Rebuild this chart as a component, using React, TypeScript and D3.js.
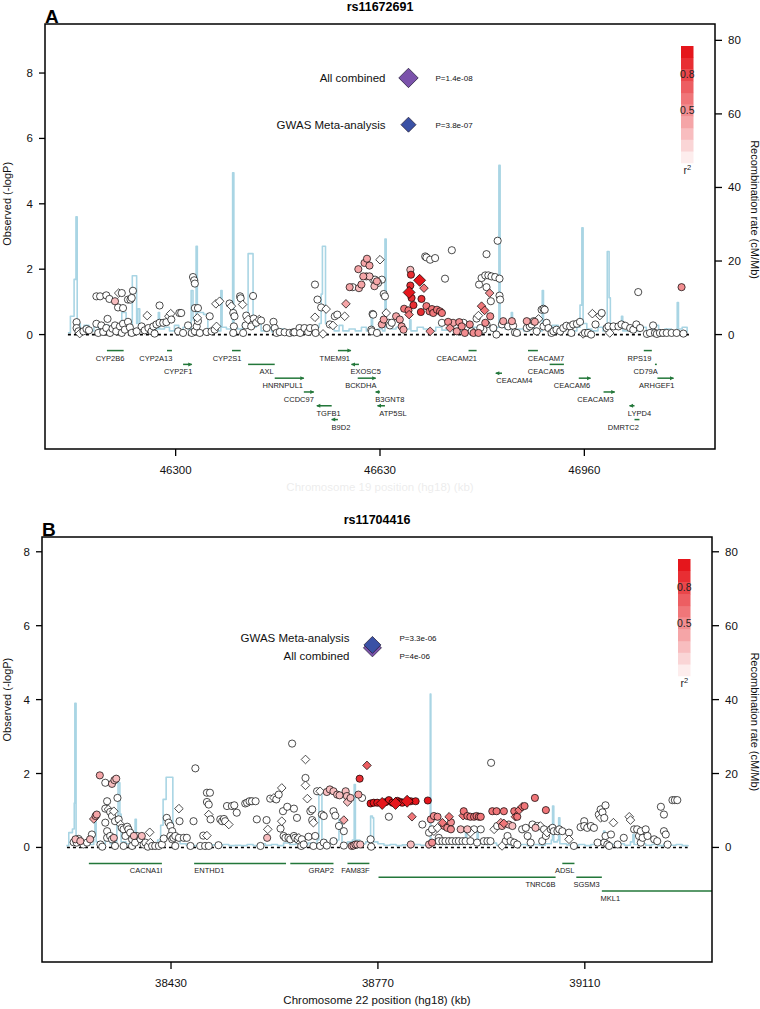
import React from "react";
import * as d3 from "d3";

type Snp = [number, number, number, string]; // position (kb), -logP, r2, shape
type Rec = [number, number]; // position (kb), cM/Mb
interface Gene { name: string; start: number; end: number; strand: number; row: number; label: number; }
interface Lead { name: string; p: string; pos: number; logp: number; color: string; size: number; dy: number; }

// ---------------- Panel A data ----------------
const snpsA: Snp[] = [
  [46140,0.38,0,"c"],[46140,0.20,0,"c"],[46143,0.10,0,"c"],[46145,0.03,0,"d"],[46151,0.10,0,"c"],[46156,0.17,0,"c"],[46160,0.13,0,"c"],[46172,0.33,0,"c"],[46175,0.05,0,"c"],[46180,0.28,0,"c"],[46183,0.08,0,"c"],[46188,0.20,0,"c"],[46190,0.48,0,"c"],[46194,0.05,0,"c"],[46198,0.18,0,"c"],[46202,0.28,0,"c"],[46204,0.10,0,"c"],[46210,0.25,0,"c"],[46213,0.05,0,"c"],[46215,0.33,0,"c"],[46218,0.15,0,"c"],[46223,0.39,0,"c"],[46226,0.22,0,"c"],[46229,0.05,0,"c"],[46237,0.10,0,"c"],[46245,0.25,0,"c"],[46250,0.13,0,"c"],[46254,0.58,0,"d"],[46256,0.20,0,"c"],[46261,0.10,0,"c"],[46264,0.25,0,"c"],[46266,0.03,0,"c"],[46269,0.31,0,"c"],[46274,0.36,0,"c"],[46274,0.89,0,"c"],[46280,0.36,0,"c"],[46285,0.38,0,"c"],[46289,0.56,0,"d"],[46292,0.64,0,"d"],[46293,0.46,0,"c"],[46306,0.66,0,"c"],[46309,0.66,0,"c"],[46304,0.10,0,"c"],[46312,0.05,0,"c"],[46320,0.28,0,"c"],[46326,0.05,0,"c"],[46331,0.10,0,"c"],[46334,0.25,0,"c"],[46336,0.41,0,"c"],[46335,0.51,0,"d"],[46331,0.81,0,"c"],[46336,0.81,0,"c"],[46328,1.76,0,"c"],[46330,1.66,0,"c"],[46331,1.56,0,"c"],[46339,0.05,0,"c"],[46350,0.08,0,"c"],[46355,0.56,0,"c"],[46358,0.10,0,"c"],[46363,0.15,0,"c"],[46366,0.25,0,"d"],[46365,0.94,0,"d"],[46371,1.02,0,"d"],[46387,0.95,0,"c"],[46390,0.87,0,"d"],[46393,0.66,0,"c"],[46395,0.56,0,"c"],[46394,0.25,0,"c"],[46393,0.05,0,"c"],[46404,1.17,0,"c"],[46405,1.11,0,"c"],[46408,0.92,0,"d"],[46409,0.05,0,"c"],[46413,0.28,0,"c"],[46414,0.58,0,"c"],[46417,0.46,0,"d"],[46422,0.25,0,"c"],[46425,1.18,0,"c"],[46426,0.49,0,"c"],[46430,0.36,0,"c"],[46435,0.46,0,"d"],[46438,0.43,0,"c"],[46447,0.20,0,"c"],[46458,0.39,0,"c"],[46460,0.20,0,"c"],[46463,0.05,0,"c"],[46468,0.08,0,"c"],[46476,0.07,0,"c"],[46484,0.05,0,"c"],[46490,0.07,0,"c"],[46492,0.07,0,"c"],[46500,0.20,0,"c"],[46501,0.05,0,"c"],[46508,0.20,0,"c"],[46514,0.08,0,"c"],[46517,0.20,0,"c"],[46525,0.53,0,"d"],[46525,0.20,0,"c"],[46526,0.05,0,"c"],[46525,1.53,0,"c"],[46529,1.07,0,"c"],[46535,0.83,0,"c"],[46538,0.02,0,"d"],[46543,0.78,0,"d"],[46549,0.31,0,"c"],[46554,0.28,0,"d"],[46557,0.56,0,"c"],[46561,0.61,0,"c"],[46575,0.94,0.3,"d"],[46573,0.56,0,"d"],[46581,1.45,0.3,"c"],[46586,1.45,0,"c"],[46595,2.00,0.3,"c"],[46600,1.53,0.3,"c"],[46596,1.42,0.2,"c"],[46603,1.78,0.3,"c"],[46605,2.19,0.3,"c"],[46609,2.32,0.3,"c"],[46613,2.11,0.3,"c"],[46608,1.78,0.2,"c"],[46613,1.78,0.2,"c"],[46619,1.68,0,"c"],[46621,1.48,0.2,"c"],[46618,0.63,0,"c"],[46616,0.15,0,"c"],
  [46172,1.17,0,"c"],[46178,1.17,0,"c"],[46188,1.20,0,"c"],[46193,1.09,0,"c"],[46202,1.02,0.2,"c"],[46208,1.27,0,"d"],[46213,1.27,0,"c"],[46207,0.83,0,"c"],[46215,0.81,0,"c"],[46223,1.07,0,"c"],[46227,1.07,0,"c"],[46229,1.12,0,"c"],[46231,1.34,0,"c"],
  [46630,2.29,0,"d"],[46633,1.68,0,"c"],[46636,1.24,0,"c"],[46638,1.17,0,"c"],[46640,0.66,0,"d"],[46619,0.61,0,"c"],[46617,0.10,0,"c"],[46625,0.05,0,"c"],[46633,0.31,0.3,"c"],[46636,0.46,0.3,"c"],[46625,1.63,0.3,"c"],[46627,1.58,0,"c"],[46622,1.68,0,"c"],
  [46644,0.36,0,"c"],[46646,0.28,0,"c"],[46649,0.36,0,"c"],[46656,0.56,0.3,"c"],[46662,0.46,0.3,"c"],[46665,0.25,0.3,"c"],[46668,0.15,0.3,"c"],[46669,0.79,0.5,"c"],[46676,0.74,0.5,"c"],[46677,0.61,0.5,"d"],[46679,1.98,0.2,"c"],[46680,1.83,0.85,"c"],[46679,1.50,0.85,"c"],[46677,1.29,0.95,"D"],[46681,1.12,0.85,"c"],[46684,0.90,0.85,"c"],[46694,1.66,0.95,"D"],[46701,1.42,0.5,"d"],[46697,1.09,0.85,"c"],[46696,0.69,0.85,"c"],[46705,0.87,0.5,"c"],[46710,0.71,0.5,"c"],[46714,0.78,0.5,"c"],[46716,0.66,0.5,"c"],[46722,0.76,0.5,"c"],[46727,0.71,0.5,"c"],[46730,0.66,0.5,"c"],[46711,0.10,0.4,"d"],[46703,2.39,0,"c"],[46705,2.36,0,"c"],[46711,2.29,0,"c"],[46719,2.34,0,"c"],[46746,2.58,0,"c"],[46735,1.71,0,"c"],[46730,0.36,0,"c"],[46740,0.39,0.4,"c"],[46743,0.20,0.4,"d"],[46748,0.36,0.3,"c"],[46751,0.25,0,"c"],[46754,0.10,0.3,"c"],[46758,0.38,0.4,"c"],[46762,0.25,0.4,"c"],[46765,0.36,0,"c"],[46767,0.05,0.4,"c"],[46770,0.20,0,"c"],[46775,0.31,0.4,"c"],[46778,0.10,0,"c"],[46781,0.05,0.4,"c"],[46786,0.49,0,"c"],[46789,0.58,0,"d"],[46790,1.53,0,"c"],[46794,1.73,0,"c"],[46800,1.81,0,"c"],[46805,1.81,0,"c"],[46810,1.78,0,"c"],[46816,1.76,0,"c"],[46823,1.71,0,"c"],[46802,2.46,0,"c"],[46820,2.87,0,"c"],[46802,1.45,0,"c"],[46807,1.27,0.4,"d"],[46809,1.02,0,"c"],[46823,1.19,0,"c"],[46824,1.07,0,"c"],[46794,0.87,0.5,"d"],[46799,0.74,0.5,"d"],[46800,0.36,0.4,"c"],[46802,0.31,0,"c"],[46808,0.56,0.4,"c"],[46797,0.15,0,"c"],[46792,0.20,0,"c"],[46789,0.05,0.4,"c"],[46813,0.20,0,"c"],[46818,0.00,0,"c"],[46827,0.31,0,"c"],[46829,0.41,0.3,"c"],[46837,0.25,0,"c"],[46843,0.41,0.3,"c"],[46845,0.27,0,"c"],[46848,0.07,0,"c"],[46851,0.05,0,"c"],[46867,0.41,0.3,"c"],[46867,0.20,0,"c"],[46872,0.25,0,"c"],[46875,0.31,0,"c"],[46878,0.41,0,"c"],[46880,0.39,0.3,"c"],[46883,0.10,0,"c"],[46886,0.48,0,"d"],[46891,0.76,0,"c"],[46894,0.79,0,"c"],[46896,0.76,0,"c"],[46894,0.25,0,"c"],[46899,0.36,0,"c"],[46902,0.20,0,"c"],[46907,0.05,0,"c"],[46910,0.10,0,"c"],[46915,0.15,0,"c"],[46921,0.10,0,"c"],[46926,0.20,0,"c"],[46931,0.27,0,"c"],[46937,0.25,0,"c"],[46939,0.05,0,"c"],[46942,0.31,0,"c"],[46948,0.33,0,"c"],[46953,0.39,0,"c"],[46958,0.02,0,"d"],[46961,0.05,0,"c"],[46966,0.05,0,"c"],[46971,0.00,0,"c"],[46973,0.64,0,"d"],[46985,0.58,0,"d"],[46988,0.66,0,"c"],[46978,0.31,0,"c"],[46996,0.20,0,"c"],[46999,0.25,0,"c"],[47001,0.05,0,"d"],[47007,0.25,0,"c"],[47015,0.25,0,"c"],[47020,0.31,0,"c"],[47026,0.27,0,"c"],[47034,0.20,0,"c"],[47039,0.15,0,"c"],[47044,0.31,0,"c"],[47047,1.30,0,"c"],[47050,0.20,0,"c"],[47061,0.02,0,"c"],[47066,0.05,0,"c"],[47071,0.28,0,"c"],[47074,0.05,0,"c"],[47077,0.02,0,"c"],[47082,0.05,0,"c"],[47087,0.05,0,"c"],[47093,0.05,0,"c"],[47101,0.05,0,"c"],[47109,0.05,0,"c"],[47117,1.45,0.4,"c"],[47120,0.03,0,"c"],
];

const recombA: Rec[] = [
  [46126,0.5],[46130,5],[46134,5],[46136,15],[46139,32],[46141,3],[46146,1.5],[46152,2.5],[46160,1],[46168,2],[46176,1.2],[46185,2.5],[46192,1],[46200,1.8],[46208,1],[46213,6],[46217,6],[46220,2],[46226,1.5],[46230,16],[46235,16],[46237,3],[46239,7],[46242,2],[46250,1],[46258,2],[46266,1.5],[46272,6],[46274,1.5],[46282,2],[46290,1],[46298,2.5],[46305,1],[46312,2],[46320,1.5],[46325,12],[46328,4],[46333,24],[46335,6],[46345,5.5],[46350,5],[46352,1.5],[46360,2],[46368,1],[46373,12],[46375,2],[46382,1.5],[46390,2],[46392,44],[46394,2],[46400,1.5],[46408,3],[46414,2],[46417,22],[46423,22],[46425,2],[46430,3],[46438,1],[46446,2],[46455,0.8],[46465,1.5],[46475,0.8],[46485,1.2],[46495,0.8],[46505,1.5],[46515,1],[46525,2],[46532,3],[46535,11],[46537,24],[46540,24],[46542,3],[46548,2],[46556,1],[46564,2.5],[46570,1],[46580,1.5],[46590,1],[46600,2],[46608,1],[46616,5],[46618,1],[46626,1.5],[46634,1],[46638,26],[46640,2],[46648,1.5],[46656,2],[46664,1],[46672,1.5],[46678,4],[46680,1],[46690,2],[46700,1.5],[46710,1],[46720,2],[46730,1.2],[46740,2],[46750,1],[46760,1.5],[46770,1],[46780,2],[46790,1.5],[46800,2],[46810,1],[46818,2],[46822,46],[46824,2],[46832,1.5],[46842,6],[46844,1],[46852,1.5],[46862,1],[46872,1.8],[46882,1],[46892,12],[46894,3],[46900,1.5],[46908,2.5],[46918,1],[46928,2],[46938,1],[46948,2],[46953,8],[46956,29],[46958,3],[46964,1.5],[46972,1],[46982,2],[46990,1],[46997,22.6],[47000,10],[47002,1.5],[47010,2],[47020,5],[47022,1],[47030,1.5],[47040,1],[47050,2],[47060,1],[47070,2.5],[47080,1],[47090,1.5],[47100,1],[47110,8.7],[47112,1.5],[47118,2],[47126,0.5],
];

const genesA: Gene[] = [
  { name: "CYP2B6", start: 46189, end: 46216, strand: 0, row: 0, label: 46194 },
  { name: "CYP2A13", start: 46286, end: 46294, strand: 0, row: 0, label: 46268 },
  { name: "CYP2F1", start: 46312, end: 46326, strand: 1, row: 1, label: 46304 },
  { name: "CYP2S1", start: 46391, end: 46405, strand: 0, row: 0, label: 46383 },
  { name: "AXL", start: 46417, end: 46460, strand: 0, row: 1, label: 46447 },
  { name: "HNRNPUL1", start: 46460, end: 46507, strand: 1, row: 2, label: 46473 },
  { name: "CCDC97", start: 46507, end: 46523, strand: 1, row: 3, label: 46499 },
  { name: "TGFB1", start: 46528, end: 46552, strand: -1, row: 4, label: 46547 },
  { name: "B9D2", start: 46552, end: 46562, strand: -1, row: 5, label: 46567 },
  { name: "TMEM91", start: 46562, end: 46583, strand: 1, row: 0, label: 46557 },
  { name: "EXOSC5", start: 46584, end: 46596, strand: -1, row: 1, label: 46607 },
  { name: "BCKDHA", start: 46594, end: 46623, strand: 1, row: 2, label: 46599 },
  { name: "B3GNT8", start: 46623, end: 46630, strand: -1, row: 3, label: 46646 },
  { name: "ATP5SL", start: 46626, end: 46638, strand: -1, row: 4, label: 46651 },
  { name: "CEACAM21", start: 46773, end: 46786, strand: 0, row: 0, label: 46754 },
  { name: "CEACAM4", start: 46817, end: 46827, strand: -1, row: 1.64, label: 46847 },
  { name: "CEACAM7", start: 46869, end: 46885, strand: 0, row: 0, label: 46898 },
  { name: "CEACAM5", start: 46904, end: 46927, strand: 0, row: 1, label: 46898 },
  { name: "CEACAM6", start: 46951, end: 46970, strand: 1, row: 2, label: 46940 },
  { name: "CEACAM3", start: 46991, end: 47009, strand: 1, row: 3, label: 46978 },
  { name: "LYPD4", start: 47033, end: 47041, strand: -1, row: 4, label: 47049 },
  { name: "DMRTC2", start: 47041, end: 47049, strand: 0, row: 5, label: 47023 },
  { name: "RPS19", start: 47056, end: 47069, strand: 0, row: 0, label: 47049 },
  { name: "CD79A", start: 47074, end: 47077, strand: 0, row: 1, label: 47059 },
  { name: "ARHGEF1", start: 47078, end: 47104, strand: 1, row: 2, label: 47077 },
];

const leadsA: Lead[] = [
  { name: "All combined", p: "P=1.4e-08", pos: 46676, logp: 7.85, color: "#7b52ab", size: 9.7, dy: 0 },
  { name: "GWAS Meta-analysis", p: "P=3.8e-07", pos: 46676, logp: 6.42, color: "#3a51a5", size: 7.5, dy: 0 },
];
const xTicksA = [46300, 46630, 46960];
const baselineA = [46126, 47130];

// ---------------- Panel B data ----------------
const snpsB: Snp[] = [
  [38270,0.14,0,"c"],[38273,0.22,0.2,"c"],[38275,0.13,0,"c"],[38278,0.23,0,"c"],[38281,0.17,0.2,"c"],[38286,0.08,0,"c"],[38292,0.13,0,"c"],[38297,0.22,0.2,"c"],[38300,0.35,0,"c"],[38303,0.77,0.3,"d"],[38306,0.85,0.3,"c"],[38308,0.89,0.3,"c"],[38313,1.95,0.3,"c"],[38314,0.08,0,"c"],[38317,0.02,0,"c"],[38322,1.75,0,"c"],[38325,1.25,0,"c"],[38322,1.05,0,"c"],[38322,0.67,0,"c"],[38325,0.44,0,"c"],[38325,0.26,0,"c"],[38327,1.03,0,"d"],[38330,0.96,0,"c"],[38333,1.72,0.2,"c"],[38337,1.82,0.2,"c"],[38340,1.86,0.2,"c"],[38333,0.85,0,"c"],[38336,0.98,0,"d"],[38338,0.71,0,"c"],[38330,0.31,0,"c"],[38333,0.22,0,"c"],[38336,0.26,0.2,"c"],[38338,0.04,0,"c"],[38342,1.34,0,"c"],[38344,0.76,0,"c"],[38347,0.62,0,"d"],[38349,0.53,0,"c"],[38352,0.04,0,"c"],[38352,0.49,0,"c"],[38355,0.31,0,"c"],[38358,0.56,0,"c"],[38360,0.49,0,"c"],[38363,0.40,0,"c"],[38366,0.22,0,"c"],[38366,0.04,0,"c"],[38369,0.31,0.2,"c"],[38371,0.13,0,"c"],[38374,0.31,0,"c"],[38380,0.22,0,"c"],[38382,0.31,0.2,"c"],[38385,0.08,0,"c"],[38388,0.13,0,"c"],[38392,0.02,0,"c"],[38395,0.41,0,"d"],[38396,0.13,0,"d"],[38399,0.04,0,"c"],[38404,0.04,0,"c"],[38410,0.04,0,"c"],[38415,0.08,0,"c"],[38418,0.24,0,"c"],[38423,0.80,0,"c"],[38426,0.67,0,"c"],[38429,0.58,0,"c"],[38432,0.44,0,"c"],[38429,0.31,0,"c"],[38432,0.22,0,"c"],[38434,0.26,0,"c"],[38437,0.31,0,"c"],[38443,0.26,0,"c"],[38451,0.26,0,"c"],[38456,0.26,0,"c"],[38443,1.05,0,"d"],[38444,0.71,0,"c"],[38437,0.04,0,"c"],[38462,0.04,0,"c"],[38467,0.71,0,"c"],[38470,2.14,0,"c"],[38478,0.04,0,"c"],[38483,0.32,0,"c"],[38486,0.04,0,"c"],[38489,1.23,0,"c"],[38489,1.48,0,"c"],[38494,1.48,0,"c"],[38492,1.16,0,"c"],[38492,0.89,0,"d"],[38495,0.76,0,"c"],[38489,0.32,0,"d"],[38492,0.04,0,"c"],[38508,0.06,0,"c"],[38511,0.76,0,"c"],[38514,0.71,0,"c"],[38517,0.77,0,"c"],[38519,0.71,0,"c"],[38522,1.12,0,"c"],[38525,0.62,0,"d"],[38530,1.12,0,"c"],[38534,1.14,0,"c"],[38538,0.94,0,"c"],[38552,1.19,0,"c"],[38555,1.21,0,"c"],[38559,1.25,0,"c"],[38563,1.25,0,"c"],[38569,1.25,0,"c"],[38571,0.76,0,"c"],[38577,0.04,0,"c"],[38587,0.74,0,"c"],[38588,0.26,0.2,"c"],[38589,0.49,0,"d"],[38593,1.32,0,"c"],[38599,1.34,0,"d"],[38603,1.30,0,"c"],[38607,1.43,0,"c"],[38612,1.61,0,"d"],[38610,0.51,0,"c"],[38612,0.71,0,"d"],[38614,0.98,0,"c"],[38615,0.31,0,"c"],[38618,0.26,0,"c"],[38621,1.10,0,"c"],[38623,0.26,0,"c"],[38626,0.22,0,"c"],[38629,2.81,0,"c"],[38632,1.05,0,"c"],[38632,0.31,0,"c"],[38634,0.26,0,"c"],[38637,0.80,0,"c"],[38638,0.22,0,"c"],[38640,0.26,0,"d"],[38643,0.13,0,"d"],[38644,0.04,0,"c"],[38645,0.22,0,"c"],[38648,0.08,0,"c"],[38651,2.38,0,"d"],[38651,1.88,0,"c"],[38651,1.68,0,"d"],[38654,1.32,0,"d"],[38656,0.29,0,"c"],[38659,0.98,0,"c"],[38662,0.74,0,"c"],[38664,0.67,0,"d"],[38662,1.03,0,"c"],[38664,0.04,0,"c"],[38667,0.31,0,"c"],[38670,1.52,0,"c"],[38675,1.52,0,"d"],[38678,0.89,0,"c"],[38681,0.85,0,"c"],[38686,1.50,0.2,"c"],[38691,1.57,0.2,"c"],[38697,1.52,0.2,"c"],[38703,1.43,0.2,"c"],[38707,1.41,0.2,"c"],[38717,1.52,0.2,"c"],[38719,1.39,0.2,"c"],[38720,1.23,0.2,"d"],[38725,1.34,0.2,"c"],[38697,0.98,0,"c"],[38700,0.86,0,"c"],[38706,0.58,0,"c"],[38714,0.74,0.3,"d"],[38714,0.44,0,"c"],[38675,0.04,0,"c"],[38681,0.13,0,"c"],[38686,0.05,0,"c"],[38697,0.17,0,"c"],[38714,0.05,0,"c"],[38727,0.04,0.2,"c"],[38730,0.05,0.2,"c"],[38733,0.08,0.2,"c"],[38736,0.08,0.2,"c"],[38738,1.43,0.3,"c"],[38741,0.08,0.2,"c"],[38744,1.34,0,"c"],[38740,1.86,0.8,"c"],[38752,2.22,0.6,"d"],[38758,0.22,0,"c"],[38759,0.02,0,"c"],
  [38758,1.19,0.9,"c"],[38763,1.21,0.9,"c"],[38769,1.21,0.9,"c"],[38777,1.19,0.95,"D"],[38783,1.23,0.9,"c"],[38788,1.28,0.9,"c"],[38794,1.21,0.9,"c"],[38799,1.19,0.95,"D"],[38802,1.26,0.9,"c"],[38807,1.23,0.9,"c"],[38810,1.21,0.9,"c"],[38818,1.25,0.95,"D"],[38824,1.25,0.9,"c"],[38832,1.25,0.9,"c"],[38852,1.27,0.9,"c"],
  [38788,0.83,0,"c"],[38826,0.83,0.5,"d"],[38824,0.08,0.2,"c"],[38843,0.62,0,"c"],[38854,0.08,0.2,"c"],[38854,0.40,0,"c"],[38857,0.76,0.4,"c"],[38862,0.85,0.4,"c"],[38868,0.83,0.4,"c"],[38859,0.13,0.4,"c"],[38862,0.44,0,"d"],[38859,0.49,0,"c"],[38868,0.53,0,"d"],[38870,0.26,0,"c"],[38876,0.67,0.5,"d"],[38879,0.58,0.4,"c"],[38884,0.53,0.4,"c"],[38887,0.83,0.5,"d"],[38890,0.68,0.4,"c"],[38890,0.49,0.4,"c"],
  [38870,0.17,0,"c"],[38876,0.17,0,"c"],[38881,0.17,0,"c"],[38887,0.17,0,"c"],[38892,0.17,0,"c"],[38898,0.17,0,"c"],[38903,0.17,0,"c"],[38909,0.17,0,"c"],[38914,0.17,0,"c"],
  [38906,0.49,0.2,"c"],[38910,0.86,0.5,"d"],[38911,0.98,0.5,"c"],[38917,0.85,0.5,"c"],[38922,0.83,0.5,"c"],[38928,0.83,0.5,"c"],[38932,0.85,0.5,"c"],[38936,0.83,0.5,"c"],[38939,0.83,0.5,"c"],[38917,0.49,0.2,"c"],[38928,0.49,0,"c"],[38939,0.49,0,"c"],[38922,0.40,0,"d"],[38922,0.17,0,"c"],[38933,0.13,0,"c"],[38944,0.17,0,"c"],[38950,0.17,0,"c"],[38955,0.17,0,"c"],[38958,0.98,0.5,"c"],[38965,0.98,0.5,"c"],[38956,2.29,0,"c"],[38961,0.49,0,"d"],[38966,0.58,0,"c"],[38972,0.67,0.3,"d"],[38974,0.58,0.3,"c"],[38977,0.98,0.5,"c"],[38977,0.65,0.5,"d"],[38980,0.17,0,"c"],[38974,0.04,0,"d"],[38983,0.31,0,"c"],[38985,0.62,0.2,"c"],[38991,0.58,0.2,"c"],[38994,0.98,0.5,"c"],[38996,0.83,0.5,"d"],[38999,0.83,0.5,"c"],[39002,1.01,0.5,"d"],[39007,1.10,0.5,"d"],[39011,1.12,0.5,"c"],[38988,0.17,0,"c"],[38994,0.13,0,"c"],[38999,0.08,0,"c"],[39007,0.49,0,"c"],[39013,0.53,0,"c"],[39016,0.31,0,"c"],[39021,0.13,0,"c"],[39024,0.62,0,"c"],[39028,1.34,0.5,"c"],[39029,0.53,0.2,"c"],[39032,0.58,0,"c"],[39037,0.58,0,"d"],[39040,0.17,0,"c"],[39046,1.01,0.5,"c"],[39043,0.49,0,"c"],[39046,0.31,0,"c"],[39048,0.40,0,"d"],[39054,0.49,0,"c"],[39057,0.53,0,"c"],[39059,0.44,0,"c"],[39065,0.44,0,"c"],[39068,0.49,0,"c"],[39073,0.44,0,"c"],[39084,0.40,0,"c"],[39084,0.22,0,"d"],[39092,0.04,0,"c"],[39103,0.55,0,"c"],[39109,0.71,0,"c"],[39109,0.58,0,"c"],[39114,0.53,0,"c"],[39120,0.58,0,"c"],[39125,0.53,0,"c"],[39131,0.13,0,"c"],[39133,0.89,0,"c"],[39136,1.03,0,"c"],[39136,0.80,0,"d"],[39139,0.95,0,"c"],[39142,0.80,0,"c"],[39144,1.14,0,"c"],[39142,0.13,0,"c"],[39144,0.31,0,"c"],[39147,0.08,0,"c"],[39150,0.04,0,"c"],[39153,0.35,0,"c"],[39157,0.67,0,"d"],[39164,0.08,0,"c"],[39174,0.26,0,"c"],[39183,0.83,0,"d"],[39185,0.74,0,"d"],[39191,0.49,0,"c"],[39196,0.49,0,"c"],[39199,0.31,0,"c"],[39202,0.44,0,"c"],[39202,0.13,0,"c"],[39205,0.26,0,"c"],[39210,0.49,0,"c"],[39213,0.31,0,"c"],[39224,0.22,0,"c"],[39229,0.17,0,"c"],[39235,1.10,0,"c"],[39240,0.89,0,"c"],[39240,0.44,0,"c"],[39243,0.35,0,"c"],[39246,0.08,0,"c"],[39254,1.28,0,"c"],[39258,1.28,0,"c"],[39262,1.28,0,"c"],
];

const recombB: Rec[] = [
  [38258,0.5],[38262,4],[38268,5],[38271,12],[38272,39],[38274,2],[38280,1],[38288,1.5],[38296,0.8],[38303,4],[38305,8.5],[38307,1.5],[38315,1],[38322,2],[38330,1],[38338,1.5],[38341,6],[38343,17.5],[38346,9],[38348,1.5],[38356,1],[38363,2],[38369,3],[38371,7.6],[38373,2],[38382,1],[38392,1.5],[38400,1],[38408,2],[38413,6],[38417,13],[38422,19],[38430,19],[38433,4],[38437,2],[38445,1],[38455,0.6],[38465,0.5],[38475,0.8],[38485,0.5],[38495,0.7],[38505,0.5],[38515,0.8],[38525,0.5],[38535,0.6],[38545,0.5],[38555,0.8],[38565,0.5],[38575,1],[38585,0.6],[38595,0.8],[38605,0.5],[38615,1.2],[38625,0.8],[38635,1],[38645,0.7],[38655,1.2],[38665,1],[38670,2],[38673,15],[38676,15],[38678,2],[38685,1],[38695,1.5],[38703,2],[38706,7.6],[38709,7],[38711,1],[38720,1.5],[38728,2],[38731,17],[38733,2],[38740,1],[38750,1.5],[38756,3],[38758,8.5],[38761,8],[38763,1.5],[38770,1],[38780,0.6],[38790,0.8],[38800,0.5],[38810,0.7],[38820,0.5],[38830,0.8],[38840,0.6],[38850,1],[38855,2],[38856,41.5],[38857,2],[38865,1],[38875,0.8],[38885,1.2],[38895,0.8],[38905,1],[38912,2],[38914,4.4],[38916,1],[38925,1.2],[38933,4.9],[38935,1],[38945,0.8],[38955,1.2],[38965,0.6],[38975,1],[38985,0.7],[38995,0.5],[39005,0.8],[39015,0.5],[39025,0.8],[39035,0.6],[39045,1],[39055,2],[39057,11.2],[39059,1.5],[39065,2],[39067,8],[39069,1],[39080,0.7],[39090,0.5],[39100,0.8],[39110,0.5],[39120,0.8],[39130,1],[39139,2],[39141,4.4],[39143,1],[39155,0.8],[39165,1],[39175,0.6],[39185,1.5],[39189,3.5],[39191,0.8],[39200,1],[39210,0.6],[39220,0.8],[39230,0.5],[39240,1],[39250,0.6],[39260,0.8],[39270,0.5],[39280,0.6],
];

const genesB: Gene[] = [
  { name: "CACNA1I", start: 38295, end: 38415, strand: 0, row: 0, label: 38389 },
  { name: "ENTHD1", start: 38468, end: 38619, strand: 0, row: 0, label: 38493 },
  { name: "GRAP2", start: 38626, end: 38697, strand: 0, row: 0, label: 38677 },
  { name: "FAM83F", start: 38720, end: 38756, strand: 0, row: 0, label: 38733 },
  { name: "TNRC6B", start: 38771, end: 39062, strand: 0, row: 1, label: 39037 },
  { name: "ADSL", start: 39073, end: 39093, strand: 0, row: 0, label: 39077 },
  { name: "SGSM3", start: 39096, end: 39138, strand: 0, row: 1, label: 39113 },
  { name: "MKL1", start: 39138, end: 39400, strand: 0, row: 2, label: 39152 },
];

const leadsB: Lead[] = [
  { name: "All combined", p: "P=4e-06", pos: 38761, logp: 5.40, color: "#7b52ab", size: 9, dy: 8 },
  { name: "GWAS Meta-analysis", p: "P=3.3e-06", pos: 38761, logp: 5.48, color: "#3a51a5", size: 8.5, dy: -7 },
];
const xTicksB = [38430, 38770, 39110];
const baselineB = [38259, 39279];

const yTicksLeft = [0, 2, 4, 6, 8];
const yTicksRight = [0, 20, 40, 60, 80];
const r2Legend = [0.8, 0.5];

// ---------------- drawing ----------------
const FONT = "'Liberation Sans', Arial, Helvetica, sans-serif";
const r2Colors = d3.range(10).map((i) => d3.interpolateRgb("#fdeded", "#e5161c")(i / 9));
function fillFor(r2: number): string {
  if (r2 < 0.1) return "#ffffff";
  return r2Colors[Math.min(9, Math.floor(r2 * 10))];
}
function diamond(cx: number, cy: number, s: number): string {
  return `M${cx},${cy - s}L${cx + s},${cy}L${cx},${cy + s}L${cx - s},${cy}Z`;
}

interface PanelProps {
  letter: string; title: string; xTitle: string; xTitleOpacity: number;
  left: number; right: number; top: number; bottom: number;
  xDomain: [number, number]; yDomain: [number, number]; recombTop: number;
  xTicks: number[]; snps: Snp[]; recomb: Rec[]; genes: Gene[]; leads: Lead[]; baseline: number[];
}

function Panel(p: PanelProps) {
  const x = d3.scaleLinear().domain(p.xDomain).range([p.left, p.right]);
  const y = d3.scaleLinear().domain(p.yDomain).range([p.bottom, p.top]);
  const yR = d3.scaleLinear().domain([0, 80]).range([y(0), y(p.recombTop)]);
  const line = d3.line<Rec>().x((d) => x(d[0])).y((d) => yR(d[1])).curve(d3.curveStepAfter);
  const geneY0 = y(0) + 16;
  const rowH = 13.8;
  const barX = p.right - 34;
  const barW = 12.5;
  const barY = p.top + 22;
  const barH = 117;
  const segH = barH / 10;
  const midX = (p.left + p.right) / 2;
  const sorted = [...p.snps].sort((a, b) => a[2] - b[2]);
  return (
    <g fontFamily={FONT}>
      {/* recombination */}
      <path d={line(p.recomb) || ""} fill="none" stroke="#a9d5e4" strokeWidth={1.6} strokeLinejoin="round" />
      {/* baseline */}
      <line x1={x(p.baseline[0])} x2={x(p.baseline[1])} y1={y(0)} y2={y(0)} stroke="#000" strokeWidth={1.6} strokeDasharray="3,3" />
      {/* SNPs */}
      {sorted.map((d, i) => {
        const cx = x(d[0]);
        const cy = y(d[1]);
        const fill = fillFor(d[2]);
        if (d[3] === "c") return <circle key={i} cx={cx} cy={cy} r={3.6} fill={fill} stroke="#000" strokeWidth={0.7} />;
        const s = d[3] === "D" ? 6 : 4.3;
        return <path key={i} d={diamond(cx, cy, s)} fill={fill} stroke="#000" strokeWidth={0.7} />;
      })}
      {/* genes */}
      {p.genes.map((g) => {
        const gy = geneY0 + g.row * rowH;
        const x1 = x(g.start);
        const x2 = Math.min(x(g.end), p.right);
        let arrow: string | null = null;
        if (g.strand === 1) arrow = `M${x2 - 3.5},${gy - 2}L${x2 + 0.5},${gy}L${x2 - 3.5},${gy + 2}Z`;
        if (g.strand === -1) arrow = `M${x1 + 3.5},${gy - 2}L${x1 - 0.5},${gy}L${x1 + 3.5},${gy + 2}Z`;
        return (
          <g key={g.name}>
            <line x1={x1} x2={x2} y1={gy} y2={gy} stroke="#23773a" strokeWidth={1.5} />
            {arrow && <path d={arrow} fill="#23773a" />}
            <text x={x(g.label)} y={gy + 10} fontSize={7.5} textAnchor="middle" fill="#222">{g.name}</text>
          </g>
        );
      })}
      {/* leads */}
      {p.leads.map((l) => {
        const cx = x(l.pos);
        const cy = y(l.logp);
        return (
          <g key={l.name}>
            <path d={diamond(cx, cy, l.size)} fill={l.color} stroke="#2a2340" strokeWidth={0.8} />
            <text x={cx - 23} y={cy + l.dy} fontSize={11.5} textAnchor="end" dominantBaseline="central" fill="#111">{l.name}</text>
            <text x={cx + 27} y={cy + l.dy + 1} fontSize={8} dominantBaseline="central" fill="#111">{l.p}</text>
          </g>
        );
      })}
      {/* r2 legend */}
      {r2Colors.map((c, i) => (
        <rect key={i} x={barX} y={barY + barH - (i + 1) * segH} width={barW} height={segH + 0.3} fill={c} />
      ))}
      {r2Legend.map((v) => (
        <text key={v} x={barX + barW / 2} y={barY + (1 - v) * barH + 5} fontSize={10.5} textAnchor="middle" dominantBaseline="central" fill="#222">{v}</text>
      ))}
      <text x={barX + barW / 2} y={barY + barH + 11} fontSize={10.5} textAnchor="middle" fill="#222">
        r<tspan dy={-4} fontSize={7.5}>2</tspan>
      </text>
      {/* frame */}
      <rect x={p.left} y={p.top} width={p.right - p.left} height={p.bottom - p.top} fill="none" stroke="#000" strokeWidth={1.5} />
      {/* left axis */}
      {yTicksLeft.map((t) => (
        <g key={t}>
          <line x1={p.left - 6} x2={p.left} y1={y(t)} y2={y(t)} stroke="#000" strokeWidth={1.3} />
          <text x={p.left - 12} y={y(t)} fontSize={11.5} textAnchor="end" dominantBaseline="central" fill="#111">{t}</text>
        </g>
      ))}
      <text transform={`translate(11,${y(4)}) rotate(-90)`} fontSize={11} textAnchor="middle" fill="#111">Observed (-logP)</text>
      {/* right axis */}
      {yTicksRight.map((t) => (
        <g key={t}>
          <line x1={p.right} x2={p.right + 7} y1={yR(t)} y2={yR(t)} stroke="#000" strokeWidth={1.3} />
          <text x={p.right + 13} y={yR(t)} fontSize={11.5} dominantBaseline="central" fill="#111">{t}</text>
        </g>
      ))}
      <text transform={`translate(751,${yR(34)}) rotate(90)`} fontSize={11} textAnchor="middle" fill="#111">Recombination rate (cM/Mb)</text>
      {/* x axis */}
      {p.xTicks.map((t) => (
        <g key={t}>
          <line x1={x(t)} x2={x(t)} y1={p.bottom} y2={p.bottom + 7} stroke="#000" strokeWidth={1.3} />
          <text x={x(t)} y={p.bottom + 25} fontSize={11.5} textAnchor="middle" fill="#111">{t}</text>
        </g>
      ))}
      <text x={midX} y={p.bottom + 42} fontSize={11.5} textAnchor="middle" fill="#111" opacity={p.xTitleOpacity}>{p.xTitle}</text>
      {/* titles */}
      <text x={midX} y={p.top - 13} fontSize={12.5} fontWeight="bold" textAnchor="middle" fill="#000">{p.title}</text>
      <text x={p.left} y={p.top - 1.5} fontSize={19} fontWeight="bold" fill="#000">{p.letter}</text>
    </g>
  );
}

export default function App() {
  return (
    <svg width={760} height={1009} viewBox="0 0 760 1009" style={{ position: "absolute", left: 0, top: 0, background: "#fff" }}>
      <rect x={0} y={0} width={760} height={1009} fill="#fff" />
      <Panel
        letter="A" title="rs11672691" xTitle="Chromosome 19 position (hg18) (kb)" xTitleOpacity={0.08}
        left={45} right={715} top={24} bottom={449}
        xDomain={[46089, 47171]} yDomain={[-3.5, 9.5]} recombTop={9}
        xTicks={xTicksA} snps={snpsA} recomb={recombA} genes={genesA} leads={leadsA} baseline={baselineA}
      />
      <Panel
        letter="B" title="rs11704416" xTitle="Chromosome 22 position (hg18) (kb)" xTitleOpacity={1}
        left={42} right={712} top={537} bottom={962}
        xDomain={[38218, 39319]} yDomain={[-3.1, 8.4]} recombTop={8}
        xTicks={xTicksB} snps={snpsB} recomb={recombB} genes={genesB} leads={leadsB} baseline={baselineB}
      />
    </svg>
  );
}
